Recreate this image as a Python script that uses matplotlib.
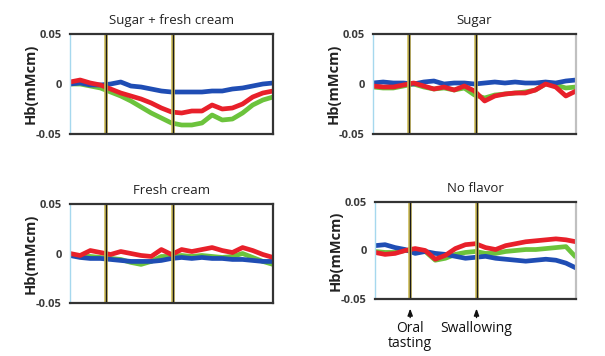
import numpy as np
import matplotlib
matplotlib.use("Agg")
import matplotlib.pyplot as plt

plt.rcParams['font.family'] = ['Open Sans', 'DejaVu Sans']

# time axis (arbitrary units, 0-100) shared by all traces
t = [0, 5, 10, 15, 20, 25, 30, 35, 40, 45, 50, 55, 60, 65, 70, 75, 80, 85, 90, 95, 100]
oral_t = 17.5
swallow_t = 50.5

titles = ['Sugar + fresh cream', 'Sugar', 'Fresh cream', 'No flavor']

# Hb traces, one set per panel
sfc_blue = [0.000, 0.001, -0.001, -0.001, 0.000, 0.002, -0.002, -0.003, -0.005, -0.007, -0.008,
            -0.008, -0.008, -0.008, -0.007, -0.007, -0.005, -0.004, -0.002, 0.000, 0.001]
sfc_red = [0.002, 0.004, 0.001, -0.001, -0.005, -0.009, -0.012, -0.015, -0.019, -0.024, -0.028,
           -0.029, -0.027, -0.027, -0.021, -0.025, -0.024, -0.020, -0.013, -0.009, -0.007]
sfc_green = [0.000, 0.000, -0.002, -0.004, -0.008, -0.012, -0.017, -0.023, -0.029, -0.034, -0.039,
             -0.041, -0.041, -0.039, -0.031, -0.036, -0.035, -0.029, -0.021, -0.016, -0.013]

sug_blue = [0.001, 0.002, 0.001, 0.001, 0.000, 0.002, 0.003, 0.000, 0.001, 0.001, 0.000,
            0.001, 0.002, 0.001, 0.002, 0.001, 0.001, 0.002, 0.001, 0.003, 0.004]
sug_red = [-0.002, -0.003, -0.003, -0.001, 0.001, -0.002, -0.005, -0.003, -0.006, -0.002, -0.007,
           -0.017, -0.012, -0.010, -0.009, -0.009, -0.006, 0.000, -0.003, -0.012, -0.007]
sug_green = [-0.003, -0.004, -0.004, -0.002, 0.000, -0.003, -0.005, -0.004, -0.006, -0.004, -0.011,
             -0.014, -0.011, -0.010, -0.009, -0.008, -0.006, 0.000, -0.001, -0.004, -0.003]

fc_blue = [-0.002, -0.004, -0.005, -0.005, -0.006, -0.007, -0.008, -0.008, -0.008, -0.007, -0.005,
           -0.004, -0.005, -0.004, -0.005, -0.005, -0.006, -0.006, -0.007, -0.008, -0.008]
fc_red = [0.000, -0.002, 0.003, 0.001, -0.001, 0.002, 0.000, -0.002, -0.003, 0.004, -0.001,
          0.004, 0.002, 0.004, 0.006, 0.003, 0.001, 0.006, 0.003, -0.001, -0.004]
fc_green = [-0.001, -0.003, -0.003, -0.004, -0.005, -0.006, -0.009, -0.011, -0.008, -0.003, -0.003,
            -0.002, -0.003, -0.002, -0.003, -0.004, -0.003, 0.000, -0.004, -0.008, -0.011]

nf_blue = [0.005, 0.006, 0.003, 0.001, -0.003, -0.001, -0.003, -0.004, -0.006, -0.008, -0.007,
           -0.006, -0.008, -0.009, -0.010, -0.011, -0.010, -0.009, -0.010, -0.013, -0.018]
nf_red = [-0.002, -0.004, -0.003, 0.000, 0.002, 0.000, -0.009, -0.005, 0.002, 0.006, 0.007,
          0.003, 0.001, 0.005, 0.007, 0.009, 0.010, 0.011, 0.012, 0.011, 0.009]
nf_green = [-0.001, -0.002, -0.002, 0.000, 0.001, -0.001, -0.010, -0.008, -0.004, -0.002, -0.001,
            -0.003, -0.003, -0.001, 0.000, 0.001, 0.001, 0.002, 0.003, 0.004, -0.007]

panels = [(sfc_green, sfc_blue, sfc_red), (sug_green, sug_blue, sug_red),
          (fc_green, fc_blue, fc_red), (nf_green, nf_blue, nf_red)]

# axes rectangles in figure fractions (605 x 356 px)
rects = [[70/605, 1-134/356, 203/605, 100/356],
         [373/605, 1-134/356, 203/605, 100/356],
         [70/605, 1-303/356, 203/605, 99/356],
         [375/605, 1-299/356, 201/605, 97/356]]

GREEN = '#6cc33c'
BLUE = '#1f4db4'
RED = '#e8202a'

fig = plt.figure(figsize=(6.05, 3.56), dpi=100)

for i in range(4):
    ax = fig.add_axes(rects[i])
    g, b, r = panels[i]
    ax.plot(t, g, color=GREEN, lw=3.4, solid_capstyle='butt')
    ax.plot(t, b, color=BLUE, lw=3.4, solid_capstyle='butt')
    ax.plot(t, r, color=RED, lw=3.4, solid_capstyle='butt')

    for ev in [oral_t, swallow_t]:
        ax.axvline(ev, color='#cdbb55', lw=2.6)
        ax.axvline(ev, color='#1a1a1a', lw=1.0)

    ax.set_xlim(0, 100)
    ax.set_ylim(-0.05, 0.05)
    ax.set_xticks([])
    ax.set_yticks([0.05, 0, -0.05])
    ax.set_yticklabels(['0.05', '0', '-0.05'], fontsize=8, fontweight='bold', color='#3a3a3a')
    ax.tick_params(axis='y', length=0, pad=6)

    ax.spines['left'].set_color('#a6d8ee')
    ax.spines['left'].set_linewidth(1.0)
    for s in ['top', 'bottom']:
        ax.spines[s].set_color('#333333')
        ax.spines[s].set_linewidth(1.6)
    if i % 2 == 0:
        ax.spines['right'].set_color('#333333')
        ax.spines['right'].set_linewidth(1.6)
    else:
        ax.spines['right'].set_color('#c0c0c0')
        ax.spines['right'].set_linewidth(1.6)

    ax.set_title(titles[i], fontsize=9.5, color='#222222', pad=7)
    ax.set_ylabel('Hb(mMcm)', fontsize=10.5, fontweight='bold', color='#222222', labelpad=-1.5)

    if i == 3:
        for ev, lab in [(oral_t, 'Oral\ntasting'), (swallow_t, 'Swallowing')]:
            ax.annotate('', xy=(ev, -0.07), xytext=(ev, -0.22),
                        xycoords=('data', 'axes fraction'), textcoords=('data', 'axes fraction'),
                        arrowprops=dict(arrowstyle='-|>,head_length=0.4,head_width=0.15',
                                        color='#111111', lw=1.0))
            ax.text(ev, -0.23, lab, transform=ax.get_xaxis_transform(), ha='center', va='top',
                    fontsize=10, color='#111111', linespacing=1.0)

fig.savefig('out.png', dpi=100)
